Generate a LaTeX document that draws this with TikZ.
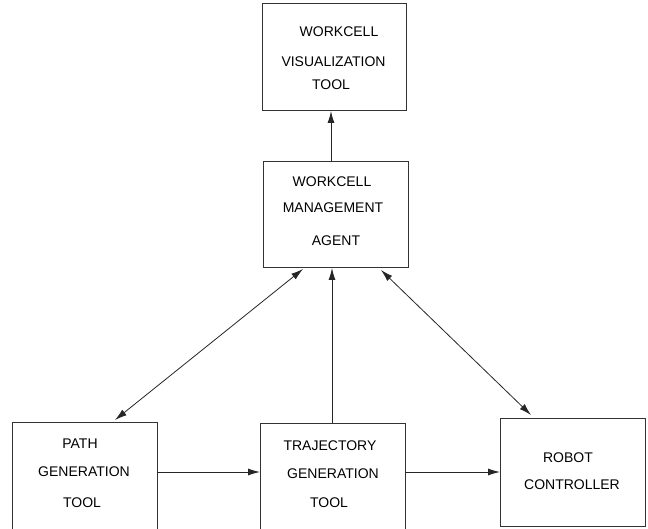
\documentclass[tikz,border=0pt]{standalone}
\usepackage{fontspec}
\setmainfont{Liberation Sans}
\usetikzlibrary{arrows.meta}
\begin{document}
\begin{tikzpicture}[x=1pt,y=-1pt,
  box/.style={draw=black!80,line width=1pt},
  lbl/.style={inner sep=0pt,anchor=base,font=\fontsize{14}{16}\selectfont},
  conn/.style={draw=black!85,line width=0.9pt,-{Latex[length=12pt,width=7pt]}},
  bconn/.style={draw=black!85,line width=0.8pt,{Latex[length=12pt,width=7pt]}-{Latex[length=12pt,width=7pt]}}]
\useasboundingbox (0,0) rectangle (648,529);
% boxes
\path[box] (262,4) rectangle (406,111);
\path[box] (263,162) rectangle (408,268);
\path[box] (12,422) rectangle (157,532);
\path[box] (260,423) rectangle (405,532);
\path[box] (500,418) rectangle (645,526);
% anchor coordinates
\coordinate (vizB) at (331,111);
\coordinate (mgmtT) at (331,162);
\coordinate (mgmtB) at (332,268);
\coordinate (mgmtBL) at (303,269);
\coordinate (mgmtBR) at (381,270);
\coordinate (pathT) at (115,420);
\coordinate (pathR) at (157,472);
\coordinate (trajL) at (260,472);
\coordinate (trajT) at (332,423);
\coordinate (trajR) at (405,472);
\coordinate (robL) at (500,472);
\coordinate (robT) at (531,415);
% texts
\node[lbl] (v1) at (339,37) {WORKCELL};
\node[lbl] (v2) at (333.5,67) {VISUALIZATION};
\node[lbl] (v3) at (331,90) {TOOL};
\node[lbl] (m1) at (332,187) {WORKCELL};
\node[lbl] (m2) at (333,213) {MANAGEMENT};
\node[lbl] (m3) at (336,246) {AGENT};
\node[lbl] (p1) at (80,448) {PATH};
\node[lbl] (p2) at (84,476) {GENERATION};
\node[lbl] (p3) at (82,507) {TOOL};
\node[lbl] (t1) at (330,450) {TRAJECTORY};
\node[lbl] (t2) at (333,478) {GENERATION};
\node[lbl] (t3) at (329,507) {TOOL};
\node[lbl] (r1) at (568,462) {ROBOT};
\node[lbl] (r2) at (572,489) {CONTROLLER};
% connectors
\draw[conn] (mgmtT) -- (vizB);
\draw[conn] (trajT) -- (mgmtB);
\draw[conn] (pathR) -- (trajL);
\draw[conn] (trajR) -- (robL);
\draw[bconn] (pathT) -- (mgmtBL);
\draw[bconn] (robT) -- (mgmtBR);
\end{tikzpicture}
\end{document}
